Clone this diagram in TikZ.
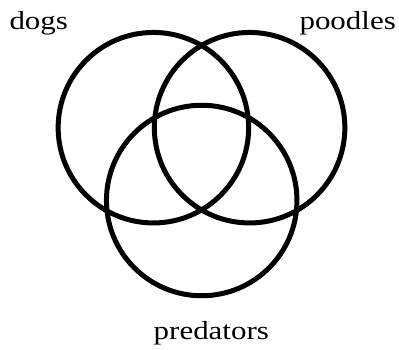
\documentclass[tikz,border=0pt]{standalone}
\usepackage{fontspec}
\setmainfont{Liberation Serif}
\usetikzlibrary{positioning}

\begin{document}
\begin{tikzpicture}[
  x=1pt, y=-1pt,
  set/.style={draw=black, line width=5pt, circle, minimum size=190.5pt, inner sep=0pt},
  lbl/.style={inner sep=0pt, font=\fontsize{26}{30}\selectfont},
]
\useasboundingbox (0,0) rectangle (399,350);

% ---- the three sets ----
\node[set] (dogs)      at (153.4,127.7) {};
\node[set] (poodles)   at (249.6,127.7) {};
\node[set] (predators) at (201.7,200.5) {};

% ---- set names ----
\node[lbl, anchor=base west] (dogsLbl)      at (9.3,29.8)   {\scalebox{1.19}[1]{dogs}};
\node[lbl, anchor=base east] (poodlesLbl)   at (396,29.8)   {\scalebox{1.19}[1]{poodles}};
\node[lbl, anchor=base]      (predatorsLbl) at (211.3,339.3) {\scalebox{1.19}[1]{predators}};
\end{tikzpicture}
\end{document}
